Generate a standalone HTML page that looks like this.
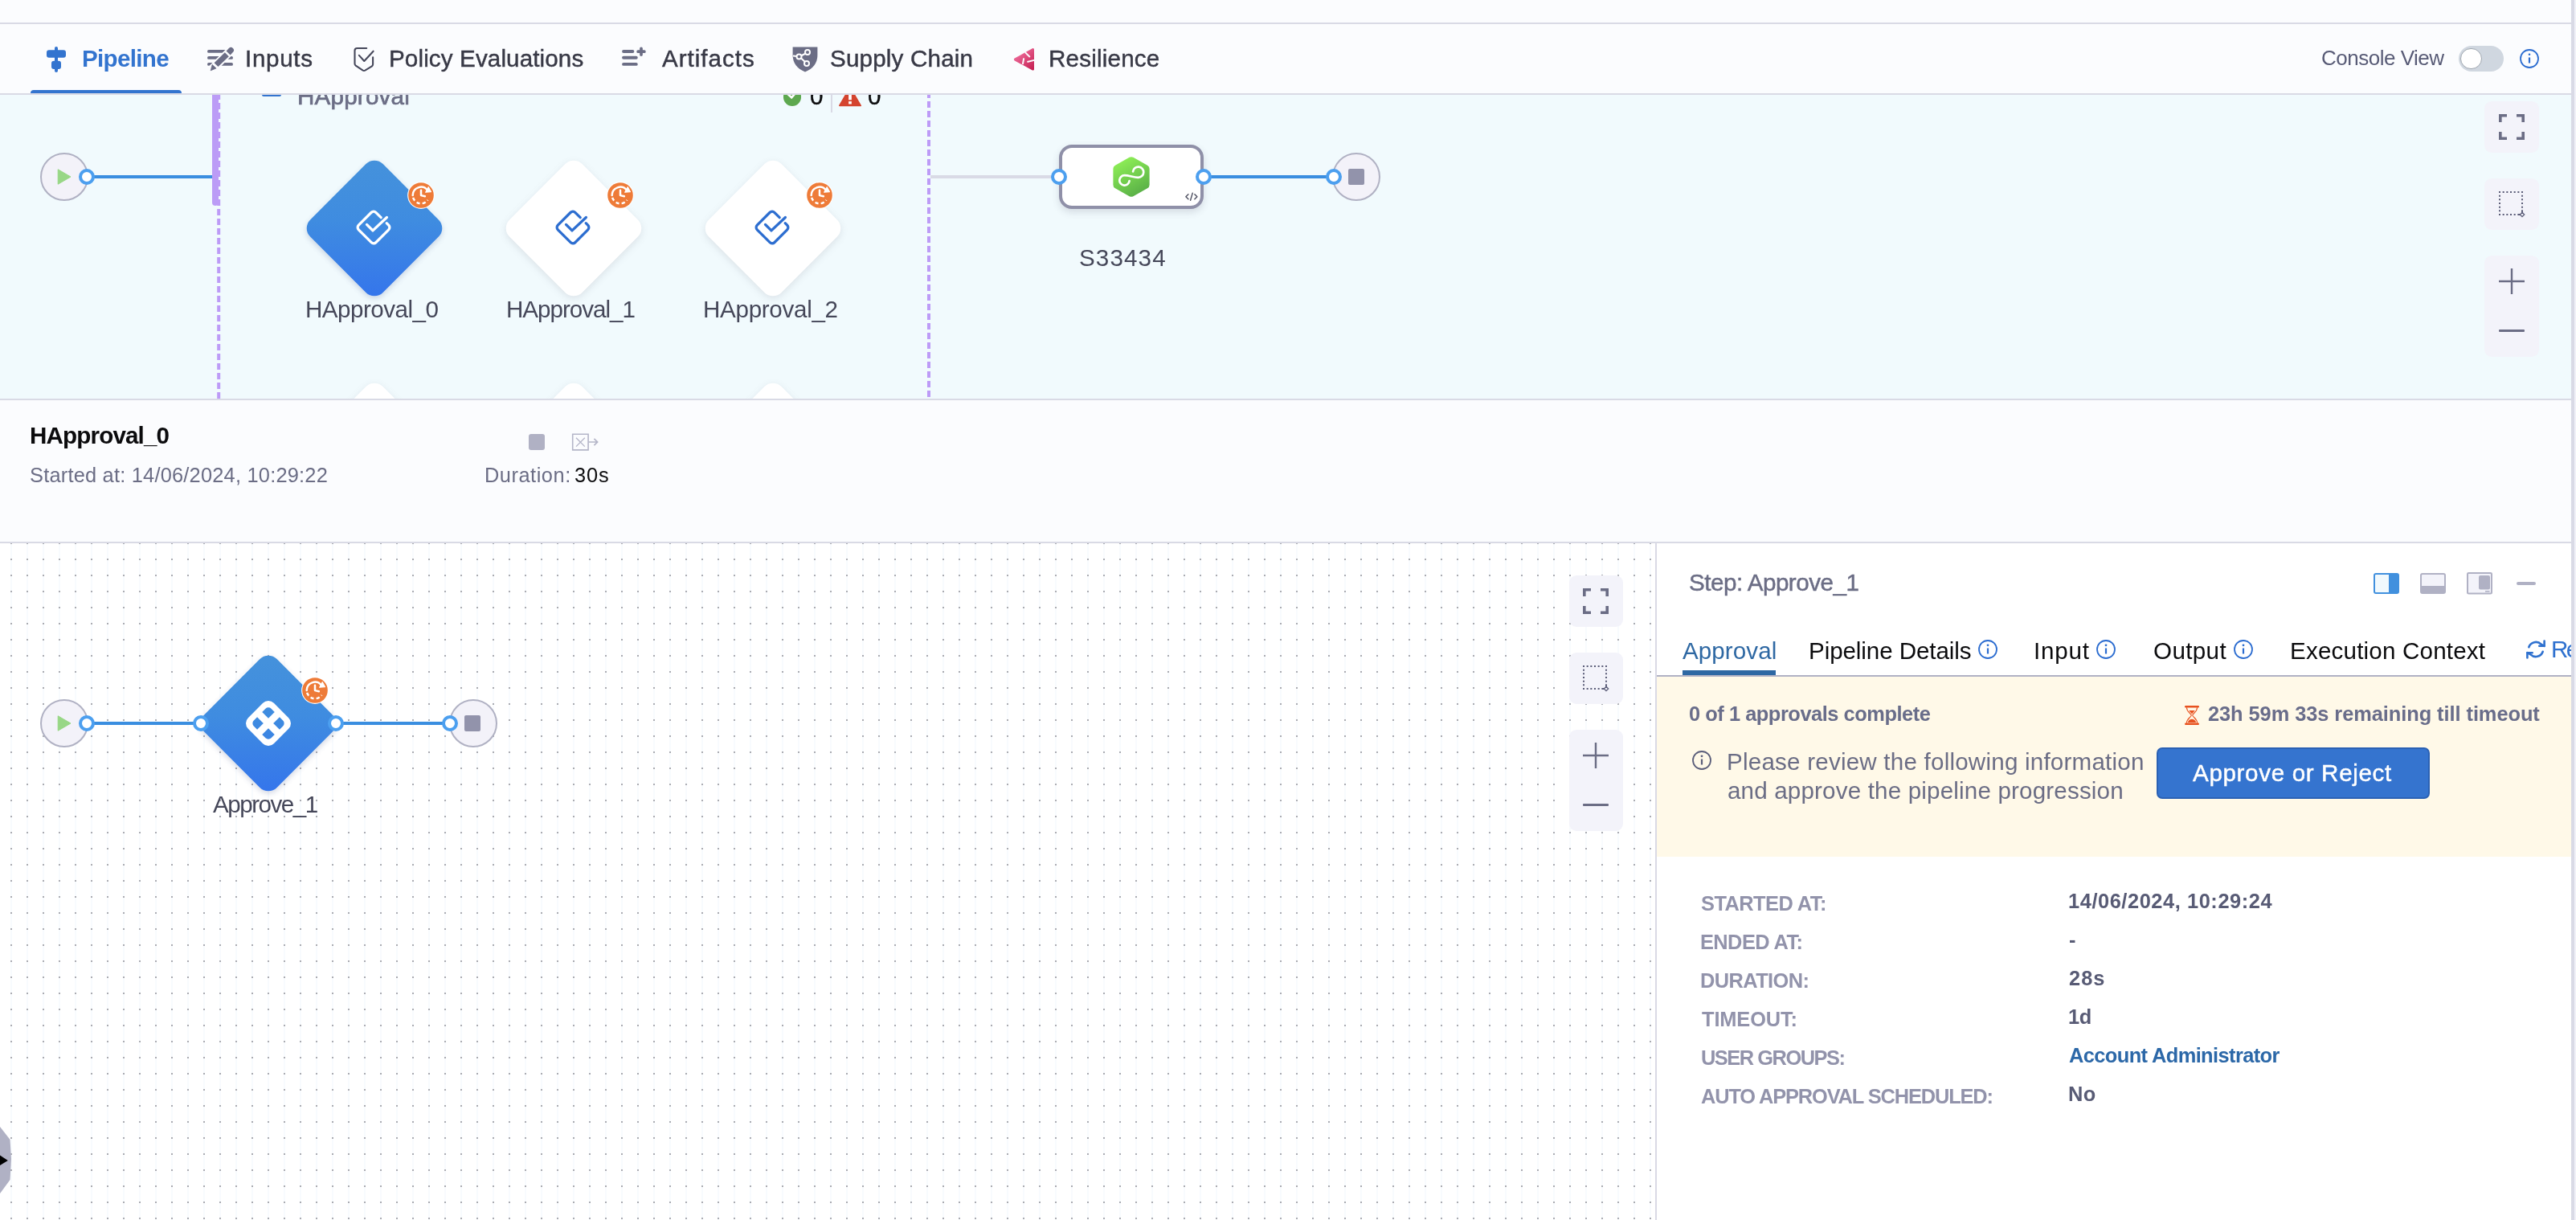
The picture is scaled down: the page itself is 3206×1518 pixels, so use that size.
<!DOCTYPE html>
<html>
<head>
<meta charset="utf-8">
<title>Pipeline Execution</title>
<style>
*{box-sizing:border-box;margin:0;padding:0}
html,body{width:3206px;height:1518px;overflow:hidden;background:#fbfcfe;font-family:"Liberation Sans",sans-serif}
.abs,.t,.hl,.box,.port,.node,.dia,.badge{position:absolute}
.t{white-space:pre;will-change:transform}
.tw{-webkit-text-stroke:0.45px currentColor}
.hl{left:0;width:3200px;height:2px;background:#d9dae5}
.box{background:#f3f3fa;border-radius:9px;width:67.500px}
.port{width:20px;height:20px;border-radius:50%;background:#fff;border:4px solid #4c9fef}
.node{width:60px;height:60px;border-radius:50%;background:#f3f2f9;border:2px solid #b0b1c3}
.ln{position:absolute;height:4px;background:#3a8ee0}
.dia{width:128px;height:128px;border-radius:15px;transform:rotate(45deg)}
.dia.sel{background:linear-gradient(135deg,#4592db 0%,#3f8ce0 45%,#3474ec 100%);box-shadow:2px 2px 7px rgba(40,60,120,.2)}
.dia.wh{background:#fff;box-shadow:2px 2px 10px rgba(96,97,112,.15)}
svg{position:absolute;overflow:visible}
#c1{position:absolute;left:0;top:118px;width:3200px;height:378px;background:#f1fafd;overflow:hidden}
#c2{position:absolute;left:0;top:676px;width:2060px;height:842px;background-color:#fff;overflow:hidden}
#panel{position:absolute;left:2060px;top:676px;width:1140px;height:842px;background:#fff;overflow:hidden}
</style>
</head>
<body>
<!-- right edge strip -->
<div class="abs" style="left:3200px;top:0;width:4px;height:1518px;background:#d9dae6"></div>
<div class="abs" style="left:3204px;top:0;width:2px;height:1518px;background:#f1f1f8"></div>
<div class="hl" style="top:28px"></div>
<div class="hl" style="top:116px"></div>
<!-- active tab underline -->
<div class="abs" style="left:38px;top:112px;width:188px;height:4px;background:#3374cf;border-radius:4px 4px 0 0"></div>

<!-- tab icons -->
<svg style="left:58px;top:58px" width="24" height="32" viewBox="0 0 24 32" fill="#3374cf">
 <rect x="10" y="0" width="4" height="32" rx="2"/><rect x="0" y="4.3" width="24" height="9.4" rx="3"/><rect x="6" y="17.7" width="12" height="10.4" rx="3"/>
</svg>
<svg style="left:256px;top:58px" width="36" height="32" viewBox="0 0 36 32">
 <g stroke="#6b6d85" stroke-width="3.700" stroke-linecap="round"><path d="M3.850 5.900H26"/><path d="M3.850 13.900H32.150"/><path d="M3.850 21.900H32.150"/></g>
 <path d="M36 0L4 32" stroke="#fbfcfe" stroke-width="10.800"/>
 <g fill="#6b6d85"><path d="M28.800 12.200L23.800 7.200 10.600 20.200 15.500 25.100z"/><path d="M25.600 5.400L28.900 2.100A3.500 3.500 0 0 1 33.900 7.100L30.600 10.400z"/><path d="M8.100 22.300L13.100 27 6.100 29.900z" stroke="#6b6d85" stroke-width="0.600" stroke-linejoin="round"/></g>
</svg>
<svg style="left:438px;top:58px" width="30" height="32" viewBox="0 0 30 32" fill="none" stroke="#45475a" stroke-width="2.100" stroke-linecap="round" stroke-linejoin="round">
 <path d="M18.200 2H6.500a3 3 0 0 0-3 3V21.300a3 3 0 0 0 1.600 2.650L13.700 29.600a2.700 2.700 0 0 0 2.600 0L24.500 24.700a3 3 0 0 0 1.600-2.650V13.300"/><path d="M8.900 10.900l6.400 7.100L26.600 5.700"/>
</svg>
<svg style="left:772px;top:56px" width="34" height="30" viewBox="0 0 34 30" stroke="#6b6d85" stroke-width="3.900" stroke-linecap="round" fill="none">
 <path d="M4.050 8H15.400"/><path d="M4.050 15.800H19.800"/><path d="M4.050 23.900H19.800"/><path d="M26 4.300V12.100M22.100 8.200H29.900" stroke-width="3.700"/>
</svg>
<svg style="left:986px;top:58px" width="32" height="32" viewBox="0 0 32 32">
 <path d="M0.6 0.6H31.4V10.5c0 10-5.5 17-15.4 21C6.1 27.5 0.6 20.5 0.6 10.5z" fill="#6b6d85"/>
 <g stroke="#fff" stroke-width="2" fill="#6b6d85"><path d="M9 12.500L18.500 7.500M9 12.500L17.500 20.500M8.500 12.300L1 11.600" fill="none"/><circle cx="8.500" cy="12.500" r="3"/><circle cx="19" cy="7" r="3"/><circle cx="18" cy="21" r="3"/></g>
</svg>
<svg style="left:1260px;top:58px" width="30" height="32" viewBox="0 0 30 32">
 <defs><linearGradient id="rg" x1="0.200" y1="0.100" x2="0.900" y2="0.950"><stop offset="0" stop-color="#f0709f"/><stop offset="1" stop-color="#c72255"/></linearGradient></defs>
 <path d="M24.900 2.200L2.700 14.600a1.600 1.600 0 0 0 0 2.800L24.900 29.400a1.400 1.400 0 0 0 2.100-1.200V3.400a1.400 1.400 0 0 0-2.100-1.200z" fill="url(#rg)"/>
 <g stroke="#fbfcfe" stroke-width="2" fill="none"><path d="M15.900 7.100L21.800 13"/><path d="M14.200 14.300L12.900 22"/><path d="M18.400 19L27.200 16.900"/></g>
</svg>

<!-- console view toggle -->
<div class="abs" style="left:3059.800px;top:57px;width:56.200px;height:32px;border-radius:16px;background:#d0d7e0"></div>
<div class="abs" style="left:3062.400px;top:59.500px;width:26.800px;height:26.800px;border-radius:50%;background:#fff;border:1.800px solid #a0a7b0"></div>
<svg style="left:3136px;top:61px" width="24" height="24" viewBox="0 0 24 24" fill="none" stroke="#2b6cd0" stroke-width="1.8"><circle cx="12" cy="12" r="11"/><path d="M12 10.500v7" stroke-width="2.200"/><circle cx="12" cy="6.800" r="1.300" fill="#2b6cd0" stroke="none"/></svg>

<!-- ================= pipeline canvas ================= -->
<div id="c1">
 <!-- coordinates inside are page y - 118 -->
 <div class="node" style="left:50px;top:72px"></div>
 <svg style="left:71px;top:92px" width="18" height="20" viewBox="0 0 18 20"><path d="M1.200 0.800L17 10 1.200 19.200z" fill="#98d786" stroke="#98d786" stroke-width="1" stroke-linejoin="round"/></svg>
 <div class="ln" style="left:112px;top:100px;width:154px"></div>
 <div class="port" style="left:98px;top:92px"></div>
 <!-- purple bar + dashed borders -->
 <div class="abs" style="left:264px;top:-6px;width:8px;height:143.500px;background:#bb9cf6;border-radius:4px"></div>
 <svg style="left:0;top:0" width="3200" height="378"><path d="M272.200 -2V378" stroke="#bd9bf7" stroke-width="4" stroke-dasharray="8 4" fill="none"/><path d="M1156 -4V378" stroke="#bd9bf7" stroke-width="4" stroke-dasharray="8 4" fill="none"/></svg>
 <!-- group title -->
 <div class="abs" style="left:326px;top:-2px;width:24px;height:4px;background:#3374cf;border-radius:2px"></div>
 <span class="t" style="left:370px;top:-13.200px;font-size:29.600px;line-height:29.600px;color:#6b6d85;letter-spacing:0.200px;-webkit-text-stroke:0.700px #6b6d85">HApproval</span>
 <div class="abs" style="left:974.600px;top:-8.900px;width:22.800px;height:22.800px;border-radius:50%;background:#5da84f"></div>
 <svg style="left:974px;top:-10px" width="24" height="24" viewBox="0 0 24 24" fill="none" stroke="#fff" stroke-width="2.600"><path d="M6.200 8.800l5 4.500 6.200-7"/></svg>
 <span class="t" style="left:1007.600px;top:-13.300px;font-size:29.600px;line-height:29.600px;color:#0b0b0d;-webkit-text-stroke:0.400px #0b0b0d">0</span>
 <div class="abs" style="left:1034px;top:-12px;width:2px;height:34px;background:#d9dae5"></div>
 <svg style="left:1044px;top:-10.300px" width="28" height="24.300" viewBox="0 0 30 26"><path d="M15 1L29 25H1z" fill="#d4442f" stroke="#d4442f" stroke-width="2" stroke-linejoin="round"/><path d="M15 8v9.500" stroke="#fff" stroke-width="4"/><rect x="13" y="19.400" width="4" height="3.600" fill="#fff"/></svg>
 <span class="t" style="left:1079.700px;top:-13.300px;font-size:29.600px;line-height:29.600px;color:#0b0b0d;-webkit-text-stroke:0.400px #0b0b0d">0</span>

 <!-- diamonds row 1 (centres y=284 page -> 166) -->
 <div class="dia sel" style="left:402px;top:102px"></div>
 <div class="dia wh" style="left:650px;top:102px"></div>
 <div class="dia wh" style="left:898px;top:102px"></div>
 <!-- diamonds row 2 (peeking) -->
 <div class="dia wh" style="left:402px;top:379px"></div>
 <div class="dia wh" style="left:650px;top:379px"></div>
 <div class="dia wh" style="left:898px;top:379px"></div>
 <!-- approval icons -->
 <svg style="left:435px;top:135px" width="60" height="60" viewBox="-30 -30 60 60" fill="none" stroke="#fff" stroke-width="3.300" stroke-linecap="round" stroke-linejoin="round"><use href="#apr"/></svg>
 <svg style="left:683px;top:135px" width="60" height="60" viewBox="-30 -30 60 60" fill="none" stroke="#2d6ed0" stroke-width="3.300" stroke-linecap="round" stroke-linejoin="round"><use href="#apr"/></svg>
 <svg style="left:931px;top:135px" width="60" height="60" viewBox="-30 -30 60 60" fill="none" stroke="#2d6ed0" stroke-width="3.300" stroke-linecap="round" stroke-linejoin="round"><use href="#apr"/></svg>
 <!-- badges -->
 <svg style="left:506.6px;top:108.100px" width="34" height="34" viewBox="-17 -17 34 34"><use href="#bdg"/></svg>
 <svg style="left:754.6px;top:108.100px" width="34" height="34" viewBox="-17 -17 34 34"><use href="#bdg"/></svg>
 <svg style="left:1002.6px;top:108.100px" width="34" height="34" viewBox="-17 -17 34 34"><use href="#bdg"/></svg>

 <!-- right: S33434 node -->
 <div class="abs" style="left:1158px;top:100px;width:160px;height:4px;background:#d9dae6"></div>
 <div class="abs" style="left:1318px;top:62px;width:180px;height:80px;border-radius:16px;border:4px solid #8f90a8;background:#fff;box-shadow:0 4px 10px rgba(60,60,90,.16)"></div>
 <div class="ln" style="left:1500px;top:100px;width:160px"></div>
 <div class="port" style="left:1308px;top:92px"></div>
 <div class="port" style="left:1488px;top:92px"></div>
 <div class="node" style="left:1658px;top:72px"></div>
 <div class="port" style="left:1650px;top:92px"></div>
 <div class="abs" style="left:1678px;top:92px;width:20px;height:20px;border-radius:2px;background:#9293ab"></div>
 <svg style="left:1382px;top:74.200px" width="52" height="56" viewBox="-26 -28 52 56">
  <defs><linearGradient id="gg" x1="0.250" y1="0" x2="0.750" y2="1"><stop offset="0" stop-color="#8aea55"/><stop offset="1" stop-color="#5cb348"/></linearGradient></defs>
  <path d="M0-19.800L17.600-10V10L0 19.800-17.600 10V-10z" fill="url(#gg)" stroke="url(#gg)" stroke-width="10" stroke-linejoin="round"/>
  <path d="M-2.400 5.200A6.200 6.200 0 1 1-8.500-1.800C-3-1.800 3 0.800 8.500 0.800A6.600 6.600 0 1 0 2.100-6.600" fill="none" stroke="#fff" stroke-width="2.700" stroke-linecap="round"/>
 </svg>
 <svg style="left:1474.500px;top:120.500px" width="15.800" height="11.500" viewBox="0 0 18 12" fill="none" stroke="#4f5162" stroke-width="1.600" stroke-linecap="round" stroke-linejoin="round"><path d="M4.500 2.500L1 6l3.500 3.500M13.500 2.500L17 6l-3.500 3.500M10.500 0.800L7.500 11.200"/></svg>

 <!-- controls -->
 <div class="box" style="left:3092px;top:8px;height:64px"></div>
 <div class="box" style="left:3092px;top:104px;height:64px"></div>
 <div class="box" style="left:3092px;top:200px;height:126px"></div>
 <svg style="left:3110px;top:24px" width="32" height="32" viewBox="0 0 32 32"><use href="#fs"/></svg>
 <svg style="left:3110px;top:120px" width="32" height="32" viewBox="0 0 32 32"><use href="#sel"/></svg>
 <svg style="left:3110px;top:216px" width="32" height="32" viewBox="0 0 32 32"><use href="#plus"/></svg>
 <div class="abs" style="left:3110px;top:292px;width:32px;height:3px;background:#6b6d85;border-radius:1px"></div>
</div>

<!-- defs -->
<svg width="0" height="0" style="left:0;top:0">
 <defs>
  <g id="apr"><path d="M9.200-12.300L2.800-18.700a4 4 0 0 0-5.600 0L-18.700-2.800a4 4 0 0 0 0 5.600L-2.800 18.700a4 4 0 0 0 5.600 0L18.700 2.800a4 4 0 0 0 0-5.600L16.200-5.300"/><path d="M-8.500-3.600L-1 3.900 16.400-12.500"/></g>
  <g id="bdg"><circle r="16.900" fill="#fff"/><circle r="15.800" fill="#ee7b38"/>
   <path d="M7.900-6.600A10.300 10.300 0 0 0-10.300 0" fill="none" stroke="#fff" stroke-width="2.500" stroke-linecap="round"/>
   <path d="M-10.100 2A10.300 10.300 0 0 0 8.400 5.900" fill="none" stroke="#fff" stroke-width="2.500" stroke-dasharray="4.200 3.100" stroke-dashoffset="-1"/>
   <path d="M0-6.200V0.100L4.900 1.300" fill="none" stroke="#fff" stroke-width="2.500" stroke-linecap="round" stroke-linejoin="round"/>
   <path d="M9.200-10.300L12.400-4.400 5.700-3.800z" fill="#fff" stroke="#fff" stroke-width="1.200" stroke-linejoin="round"/>
  </g>
  <g id="fs" fill="none" stroke="#6b6d85" stroke-width="3.600"><path d="M1.800 10V1.800H10M22 1.800H30.200V10M30.200 22V30.200H22M10 30.200H1.800V22"/></g>
  <g id="sel" fill="none" stroke="#5b5d78" stroke-width="2"><path d="M0 1H29V29H1V1" stroke-dasharray="2 2.667"/><path d="M24 29H27M29 24V27" /><path d="M29 26.300L31.700 29 29 31.700 26.300 29z" stroke-width="1.300" fill="#f3f3fa"/></g>
  <g id="plus" fill="none" stroke="#6b6d85" stroke-width="2.400"><path d="M16 0V32M0 16H32"/></g>
  <g id="info"><circle cx="12" cy="12" r="11" stroke-width="1.800" fill="none"/><path d="M12 10.500v7" stroke-width="2.200" fill="none"/><circle cx="12" cy="6.800" r="1.400" stroke="none"/></g>
 </defs>
</svg>

<div class="hl" style="top:496px"></div>
<div class="hl" style="top:674px"></div>
<!-- stage header icons -->
<div class="abs" style="left:658px;top:540px;width:20px;height:20px;border-radius:3px;background:#b0b1c4"></div>
<svg style="left:711px;top:539px" width="36" height="23" viewBox="0 0 36 23" fill="none" stroke="#b4b5c8"><path d="M1.700 1.200H21.100V20.900H1.700z" stroke-width="1.600"/><path d="M6 5.700L16.800 16.600M16.800 5.700L6 16.600" stroke-width="1.300"/><path d="M21.900 11H32.400M28.400 6.900L32.600 11 28.400 15.100" stroke-width="1.700"/></svg>

<!-- ================= lower canvas ================= -->
<div id="c2">
 <!-- coordinates: page y - 676 -->
 <svg style="left:0;top:0" width="2060" height="842"><defs><pattern id="dots" x="0" y="10" width="20" height="20" patternUnits="userSpaceOnUse"><rect x="13" y="0" width="2" height="20" fill="#f8fbfe"/><rect x="13" y="9" width="2" height="2" fill="#abacb2"/></pattern></defs><rect width="2060" height="842" fill="url(#dots)"/></svg>
 <div class="node" style="left:50px;top:194px"></div>
 <svg style="left:71px;top:214px" width="18" height="20" viewBox="0 0 18 20"><path d="M1.200 0.800L17 10 1.200 19.200z" fill="#98d786" stroke="#98d786" stroke-width="1" stroke-linejoin="round"/></svg>
 <div class="ln" style="left:112px;top:222px;width:140px"></div>
 <div class="ln" style="left:420px;top:222px;width:140px"></div>
 <div class="node" style="left:559px;top:194px"></div>
 <div class="abs" style="left:578px;top:214px;width:20px;height:20px;border-radius:2px;background:#9293ab"></div>
 <div class="dia sel" style="left:269.500px;top:160px"></div>
 <div class="port" style="left:98px;top:214px"></div>
 <div class="port" style="left:240px;top:214px"></div>
 <div class="port" style="left:408px;top:214px"></div>
 <div class="port" style="left:550px;top:214px"></div>
 <svg style="left:303.800px;top:193.900px" width="60" height="60" viewBox="-30 -30 60 60">
  <path transform="rotate(45)" fill="#fff" fill-rule="evenodd" d="M-13-22.600H13A9.600 9.600 0 0 1 22.600-13V13A9.600 9.600 0 0 1 13 22.600H-13A9.600 9.600 0 0 1-22.600 13V-13A9.600 9.600 0 0 1-13-22.600z
  M-10.350-15.350H-4.350V-4.350H-15.350V-10.350A5 5 0 0 1-10.350-15.350z
  M4.350-15.350H10.350A5 5 0 0 1 15.350-10.350V-4.350H4.350z
  M-15.350 4.350H-4.350V15.350H-10.350A5 5 0 0 1-15.350 10.350z
  M4.350 4.350H15.350V10.350A5 5 0 0 1 10.350 15.350H4.350z"/>
 </svg>
 <svg style="left:375px;top:166px" width="34" height="34" viewBox="-17 -17 34 34"><use href="#bdg"/></svg>
 <!-- controls -->
 <div class="box" style="left:1952.500px;top:40px;height:64px"></div>
 <div class="box" style="left:1952.500px;top:136px;height:64px"></div>
 <div class="box" style="left:1952.500px;top:232px;height:126px"></div>
 <svg style="left:1970px;top:56px" width="32" height="32" viewBox="0 0 32 32"><use href="#fs"/></svg>
 <svg style="left:1970px;top:152px" width="32" height="32" viewBox="0 0 32 32"><use href="#sel"/></svg>
 <svg style="left:1970px;top:248px" width="32" height="32" viewBox="0 0 32 32"><use href="#plus"/></svg>
 <div class="abs" style="left:1970px;top:324px;width:32px;height:3px;background:#6b6d85;border-radius:1px"></div>
 <!-- bottom-left handle -->
 <svg style="left:0;top:724px" width="16" height="90" viewBox="0 0 16 90"><path d="M0 2L12.500 18 14 42 12.500 68 0 85z" fill="#b0b1c4"/><path d="M0 37.500L9.800 44 0 50z" fill="#000"/></svg>
</div>

<!-- ================= right panel ================= -->
<div id="panel">
 <!-- coordinates: page x - 2060, page y - 676 -->
 <div class="abs" style="left:0;top:0;width:2px;height:842px;background:#d9dae5"></div>
 <div class="abs" style="left:2px;top:164px;width:1138px;height:2px;background:#b0b1c4"></div>
 <div class="abs" style="left:34px;top:158px;width:116px;height:6.200px;background:#2e68a3"></div>
 <div class="abs" style="left:2px;top:166px;width:1138px;height:224px;background:#fff9e8"></div>
 <!-- panel mode icons -->
 <svg style="left:894px;top:37.200px" width="32" height="26" viewBox="0 0 32 26"><rect x="1" y="1" width="30" height="24" rx="2" fill="#f1f9fd" stroke="#4190de" stroke-width="2"/><rect x="19" y="1" width="12" height="24" fill="#4190de"/></svg>
 <svg style="left:952.200px;top:37.200px" width="32" height="26" viewBox="0 0 32 26"><rect x="1" y="1" width="30" height="24" rx="2" fill="#f3f3fa" stroke="#b0b1c4" stroke-width="2"/><rect x="1" y="16" width="30" height="9" fill="#b0b1c4"/></svg>
 <svg style="left:1010.200px;top:36.400px" width="32" height="27.400" viewBox="0 0 32 27.400"><rect x="1" y="1" width="30" height="25.400" rx="1.500" fill="#f3f3fa" stroke="#b0b1c4" stroke-width="2"/><rect x="15" y="4" width="14" height="17.600" rx="2" fill="#b0b1c4"/><rect x="23" y="23" width="5.500" height="1.600" fill="#b0b1c4"/></svg>
 <div class="abs" style="left:1072px;top:48px;width:24px;height:4px;background:#b0b1c4;border-radius:2px"></div>
 <!-- tab info icons -->
 <svg style="left:401.500px;top:120px" width="24" height="24" viewBox="0 0 24 24" stroke="#2b6cd0" fill="#2b6cd0"><use href="#info"/></svg>
 <svg style="left:548.500px;top:120px" width="24" height="24" viewBox="0 0 24 24" stroke="#2b6cd0" fill="#2b6cd0"><use href="#info"/></svg>
 <svg style="left:719.500px;top:120px" width="24" height="24" viewBox="0 0 24 24" stroke="#2b6cd0" fill="#2b6cd0"><use href="#info"/></svg>
 <!-- refresh -->
 <svg style="left:1084px;top:120px" width="24" height="24" viewBox="0 0 24 24" fill="none" stroke="#2f71cf" stroke-width="2.600" stroke-linecap="round" stroke-linejoin="round"><path d="M22.600 1.500V7.800H16.300M1.400 22.500V16.200H7.700"/><path d="M3.300 9.200A9.300 9.300 0 0 1 18.600 5.600L22.600 7.800M1.400 16.200L5.400 18.400A9.300 9.300 0 0 0 20.700 14.800"/></svg>
 <span class="t" style="left:1115.400px;top:116.500px;font-size:29.600px;line-height:29.600px;color:#2f71cf;letter-spacing:-2.500px">Refresh</span>
 <!-- hourglass -->
 <svg style="left:658.900px;top:202.100px" width="18" height="24" viewBox="0 0 18 24" fill="#e8521f"><rect x="0" y="0" width="18" height="2.400" rx="1.200"/><rect x="0" y="21.600" width="18" height="2.400" rx="1.200"/><path d="M2.400 2.300C2.400 8 8 9.500 8.300 12 8 14.500 2.400 16 2.400 21.700M15.600 2.300C15.600 8 10 9.500 9.700 12 10 14.500 15.600 16 15.600 21.700" fill="none" stroke="#e8521f" stroke-width="1.100"/><path d="M5.200 6H12.800L9 10.200z"/><path d="M3.900 21C4.400 18.200 7 16.800 9 16.800S13.600 18.200 14.100 21z"/></svg>
 <!-- banner info -->
 <svg style="left:46px;top:258.300px" width="24" height="24" viewBox="0 0 24 24" stroke="#5b5e7a" fill="#5b5e7a"><use href="#info"/></svg>
 <!-- button -->
 <div class="abs" style="left:623.800px;top:254px;width:340px;height:64px;border-radius:7px;background:#3574cf;border:2px solid #2b61b4"></div>
</div>

<span class="t" style="left:101.97px;top:57.94px;font-size:29.6px;line-height:29.6px;font-weight:700;color:#3374cf;letter-spacing:-0.690px">Pipeline</span>
<span class="t tw" style="left:304.97px;top:57.94px;font-size:29.6px;line-height:29.6px;font-weight:400;color:#383946;letter-spacing:0.686px">Inputs</span>
<span class="t tw" style="left:484.37px;top:57.94px;font-size:29.6px;line-height:29.6px;font-weight:400;color:#383946;letter-spacing:0.123px">Policy Evaluations</span>
<span class="t tw" style="left:823.57px;top:57.94px;font-size:29.6px;line-height:29.6px;font-weight:400;color:#383946;letter-spacing:0.996px">Artifacts</span>
<span class="t tw" style="left:1033.37px;top:57.94px;font-size:29.6px;line-height:29.6px;font-weight:400;color:#383946;letter-spacing:0.184px">Supply Chain</span>
<span class="t tw" style="left:1304.57px;top:57.94px;font-size:29.6px;line-height:29.6px;font-weight:400;color:#383946;letter-spacing:0.192px">Resilience</span>
<span class="t" style="left:2889.17px;top:59.09px;font-size:26.0px;line-height:26.0px;font-weight:400;color:#585b76;letter-spacing:-0.496px">Console View</span>
<span class="t" style="left:37.17px;top:526.94px;font-size:29.6px;line-height:29.6px;font-weight:700;color:#0b0b0d;letter-spacing:-0.851px">HApproval_0</span>
<span class="t" style="left:37.40px;top:579.00px;font-size:25.4px;line-height:25.4px;font-weight:400;color:#6b6d85;letter-spacing:0.212px">Started at: 14/06/2024, 10:29:22</span>
<span class="t" style="left:603.20px;top:579.00px;font-size:25.4px;line-height:25.4px;font-weight:400;color:#6b6d85;letter-spacing:0.520px">Duration:</span>
<span class="t" style="left:714.60px;top:579.00px;font-size:25.4px;line-height:25.4px;font-weight:400;color:#0b0b0d;letter-spacing:0.928px">30s</span>
<span class="t" style="left:379.97px;top:369.94px;font-size:29.6px;line-height:29.6px;font-weight:400;color:#454759;letter-spacing:-0.524px">HApproval_0</span>
<span class="t" style="left:630.37px;top:369.94px;font-size:29.6px;line-height:29.6px;font-weight:400;color:#454759;letter-spacing:-1.024px">HApproval_1</span>
<span class="t" style="left:874.57px;top:369.94px;font-size:29.6px;line-height:29.6px;font-weight:400;color:#454759;letter-spacing:-0.304px">HApproval_2</span>
<span class="t" style="left:1343.37px;top:305.74px;font-size:29.6px;line-height:29.6px;font-weight:400;color:#454759;letter-spacing:1.122px">S33434</span>
<span class="t" style="left:264.77px;top:985.94px;font-size:29.6px;line-height:29.6px;font-weight:400;color:#454759;letter-spacing:-1.488px">Approve_1</span>
<span class="t tw" style="left:2101.77px;top:710.44px;font-size:29.6px;line-height:29.6px;font-weight:400;color:#6b6d85;letter-spacing:-0.499px">Step: Approve_1</span>
<span class="t" style="left:2094.17px;top:794.74px;font-size:29.6px;line-height:29.6px;font-weight:400;color:#2e68a3;letter-spacing:0.063px">Approval</span>
<span class="t" style="left:2250.97px;top:794.74px;font-size:29.6px;line-height:29.6px;font-weight:400;color:#0b0b0d;letter-spacing:-0.089px">Pipeline Details</span>
<span class="t" style="left:2530.77px;top:794.74px;font-size:29.6px;line-height:29.6px;font-weight:400;color:#0b0b0d;letter-spacing:0.757px">Input</span>
<span class="t" style="left:2679.97px;top:794.74px;font-size:29.6px;line-height:29.6px;font-weight:400;color:#0b0b0d;letter-spacing:0.362px">Output</span>
<span class="t" style="left:2849.57px;top:794.74px;font-size:29.6px;line-height:29.6px;font-weight:400;color:#0b0b0d;letter-spacing:0.179px">Execution Context</span>
<span class="t" style="left:2101.60px;top:876.30px;font-size:25.4px;line-height:25.4px;font-weight:700;color:#696d8a;letter-spacing:-0.460px">0 of 1 approvals complete</span>
<span class="t" style="left:2747.60px;top:876.30px;font-size:25.4px;line-height:25.4px;font-weight:700;color:#696d8a;letter-spacing:-0.062px">23h 59m 33s remaining till timeout</span>
<span class="t" style="left:2149.17px;top:932.74px;font-size:29.6px;line-height:29.6px;font-weight:400;color:#6b6d85;letter-spacing:0.207px">Please review the following information</span>
<span class="t" style="left:2150.17px;top:968.54px;font-size:29.6px;line-height:29.6px;font-weight:400;color:#6b6d85;letter-spacing:0.162px">and approve the pipeline progression</span>
<span class="t tw" style="left:2729.37px;top:947.34px;font-size:29.6px;line-height:29.6px;font-weight:400;color:#ffffff;letter-spacing:0.649px">Approve or Reject</span>
<span class="t" style="left:2117.40px;top:1112.30px;font-size:25.4px;line-height:25.4px;font-weight:700;color:#9293ab;letter-spacing:-0.534px">STARTED AT:</span>
<span class="t" style="left:2116.40px;top:1160.30px;font-size:25.4px;line-height:25.4px;font-weight:700;color:#9293ab;letter-spacing:-0.575px">ENDED AT:</span>
<span class="t" style="left:2116.40px;top:1208.30px;font-size:25.4px;line-height:25.4px;font-weight:700;color:#9293ab;letter-spacing:-0.573px">DURATION:</span>
<span class="t" style="left:2118.40px;top:1256.30px;font-size:25.4px;line-height:25.4px;font-weight:700;color:#9293ab;letter-spacing:-0.128px">TIMEOUT:</span>
<span class="t" style="left:2117.40px;top:1304.30px;font-size:25.4px;line-height:25.4px;font-weight:700;color:#9293ab;letter-spacing:-1.465px">USER GROUPS:</span>
<span class="t" style="left:2117.40px;top:1352.30px;font-size:25.4px;line-height:25.4px;font-weight:700;color:#9293ab;letter-spacing:-1.123px">AUTO APPROVAL SCHEDULED:</span>
<span class="t" style="left:2574.00px;top:1108.50px;font-size:25.4px;line-height:25.4px;font-weight:700;color:#585b75;letter-spacing:0.567px">14/06/2024, 10:29:24</span>
<span class="t" style="left:2575.00px;top:1156.50px;font-size:25.4px;line-height:25.4px;font-weight:700;color:#585b75;letter-spacing:0.000px">-</span>
<span class="t" style="left:2575.00px;top:1204.50px;font-size:25.4px;line-height:25.4px;font-weight:700;color:#585b75;letter-spacing:1.009px">28s</span>
<span class="t" style="left:2574.00px;top:1252.50px;font-size:25.4px;line-height:25.4px;font-weight:700;color:#585b75;letter-spacing:-0.247px">1d</span>
<span class="t" style="left:2575.00px;top:1300.50px;font-size:25.4px;line-height:25.4px;font-weight:700;color:#2c68a8;letter-spacing:-0.587px">Account Administrator</span>
<span class="t" style="left:2574.00px;top:1348.50px;font-size:25.4px;line-height:25.4px;font-weight:700;color:#585b75;letter-spacing:0.535px">No</span>
</body>
</html>
